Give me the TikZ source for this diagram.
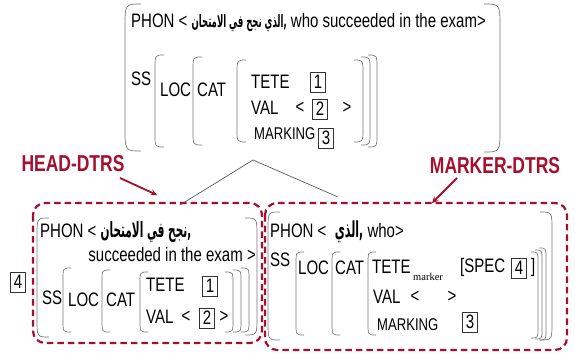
\documentclass[tikz,border=0pt]{standalone}
\usepackage{fontspec}
\setmainfont[FakeStretch=0.77]{Liberation Sans}
\newfontfamily\arabicfont[Script=Arabic,FakeStretch=0.5]{DejaVu Sans}
\newfontfamily\narrowfont[FakeStretch=0.76]{Liberation Sans}
\newfontfamily\serifsub{Liberation Serif}
\TeXXeTstate=1
\definecolor{dtrsred}{HTML}{A50F2D}
\definecolor{brkgray}{HTML}{777777}
\newcommand{\avm}{\fontsize{19.5}{21}\selectfont}
\newcommand{\avmsmall}{\fontsize{17}{19}\selectfont}

\begin{document}
\begin{tikzpicture}[x={(1pt,0pt)},y={(0pt,-1pt)},>=stealth]
 \tikzstyle{feat} = [anchor=west,inner sep=0pt,font=\avm]
 \tikzstyle{smallfeat} = [anchor=west,inner sep=0pt,font=\avmsmall]
 \tikzstyle{sym} = [inner sep=0pt,font=\avm]
 \tikzstyle{tag} = [draw=black!80,line width=0.6pt,minimum width=15pt,minimum height=20pt,inner sep=0pt,font=\avm]
 \tikzstyle{subtext} = [inner sep=0pt,font=\serifsub\fontsize{10.5}{11}\selectfont]
 \tikzstyle{brk} = [brkgray,line width=0.7pt]
 \tikzstyle{treeline} = [black!65,line width=0.7pt]
 \tikzstyle{dtrsbox} = [draw=dtrsred,line width=2.2pt,dash pattern=on 6.5pt off 4pt,rounded corners=12pt]
 \tikzstyle{dtrslabel} = [text=dtrsred,inner sep=0pt,font=\narrowfont\bfseries\fontsize{23}{25}\selectfont]
 \tikzstyle{dtrsarrow} = [->,dtrsred,line width=1.8pt]
 \newcommand{\openbr}[4]{\draw[brk] (#1+#4,#2) .. controls (#1,#2) .. (#1,#2+1.5*#4) -- (#1,#3-1.5*#4) .. controls (#1,#3) .. (#1+#4,#3);}
 \newcommand{\closebr}[4]{\draw[brk] (#1-#4,#2) .. controls (#1,#2) .. (#1,#2+1.5*#4) -- (#1,#3-1.5*#4) .. controls (#1,#3) .. (#1-#4,#3);}

  \useasboundingbox (0,0) rectangle (575,353);

  % Mother
  \node[feat] (tphon) at (131,23) {PHON < {\arabicfont\bfseries\fontsize{17}{19}\selectfont\beginR الذي نجح في الامتحان\endR,} who succeeded in the exam>};
  \node[feat] (tss) at (131,79) {SS};
  \node[feat] (tloc) at (160,90) {LOC};
  \node[feat] (tcat) at (197,90) {CAT};
  \node[feat] (ttete) at (251,82) {TETE};
  \node[tag] (ttag1) at (318,82) {1};
  \node[feat] (tval) at (251,108) {VAL};
  \node[sym] (tvall) at (300,108) {<};
  \node[tag] (ttag2) at (320,109) {2};
  \node[sym] (tvalr) at (347,108) {>};
  \node[smallfeat] (tmark) at (254,134) {MARKING};
  \node[tag] (ttag3) at (326,138) {3};

  \openbr{125}{4}{151}{16}
  \closebr{500}{4}{152}{16}
  \openbr{155}{55}{147}{9}
  \openbr{193}{57}{145}{9}
  \openbr{237}{60}{142}{9}
  \closebr{363}{60}{142}{9}
  \closebr{370}{57}{145}{9}
  \closebr{377}{55}{147}{9}

  % Tree
  \coordinate (apex) at (253,160);
  \coordinate (hroot) at (180,205);
  \coordinate (mroot) at (338,197);
  \draw[treeline] (hroot) -- (apex) -- (mroot);

  % Labels
  \node[dtrslabel] (hlabel) at (73,164) {HEAD-DTRS};
  \node[dtrslabel] (mlabel) at (495,166) {MARKER-DTRS};
  \coordinate (htail) at (120,178);
  \coordinate (htip) at (157,195);
  \coordinate (mtail) at (457,178);
  \coordinate (mtip) at (432,203);
  \draw[dtrsarrow] (htail) -- (htip);
  \draw[dtrsarrow] (mtail) -- (mtip);

  % Daughters
  \draw[dtrsbox] (33,203) rectangle (262,343);
  \draw[dtrsbox] (265,203) rectangle (567,350);

  % Head daughter
  \node[tag] (htag4) at (18,282) {4};
  \node[feat] (hphon) at (40,232) {PHON < {\arabicfont\bfseries\fontsize{21}{23}\selectfont\beginR نجح في الامتحان\endR,}};
  \node[feat,anchor=east] (hphon2) at (256,255) {succeeded in the exam >};
  \node[feat] (hss) at (42,298) {SS};
  \node[feat] (hloc) at (68,300) {LOC};
  \node[feat] (hcat) at (106,300) {CAT};
  \node[feat] (htete) at (146,285) {TETE};
  \node[tag] (htag1) at (210,286) {1};
  \node[feat] (hval) at (146,317) {VAL};
  \node[sym] (hvall) at (186,317) {<};
  \node[tag] (htag2) at (207,318) {2};
  \node[sym] (hvalr) at (224,317) {>};

  \openbr{37}{218}{337}{12}
  \closebr{257}{218}{335}{12}
  \openbr{63}{268}{332}{8}
  \openbr{102}{270}{332}{8}
  \openbr{140}{272}{332}{8}
  \closebr{233}{272}{332}{8}
  \closebr{241}{270}{332}{8}
  \closebr{249}{268}{332}{8}

  % Marker daughter
  \node[feat] (mphon) at (270,232) {PHON < \ {\arabicfont\bfseries\fontsize{22}{24}\selectfont\beginR الذي\endR,} who>};
  \node[feat] (mss) at (270,260) {SS};
  \node[feat] (mloc) at (298,268) {LOC};
  \node[feat] (mcat) at (335,268) {CAT};
  \node[feat] (mtete) at (372,267) {TETE};
  \node[subtext,anchor=west] (msub) at (413,277) {marker};
  \node[feat] (mspec) at (460,267) {[SPEC};
  \node[tag] (mtag4) at (519,268) {4};
  \node[feat] (mspecr) at (531,267) {]};
  \node[feat] (mval) at (373,297) {VAL};
  \node[sym] (mvall) at (415,297) {<};
  \node[sym] (mvalr) at (452,297) {>};
  \node[smallfeat] (mmark) at (377,325) {MARKING};
  \node[tag] (mtag3) at (470,322) {3};

  \openbr{268}{212}{340}{12}
  \closebr{552}{212}{340}{12}
  \openbr{296}{252}{335}{8}
  \openbr{332}{252}{335}{8}
  \openbr{368}{252}{335}{8}
  \closebr{538}{252}{338}{7}
  \closebr{542}{250}{339}{7}
  \closebr{546}{248}{340}{7}

\end{tikzpicture}
\end{document}
